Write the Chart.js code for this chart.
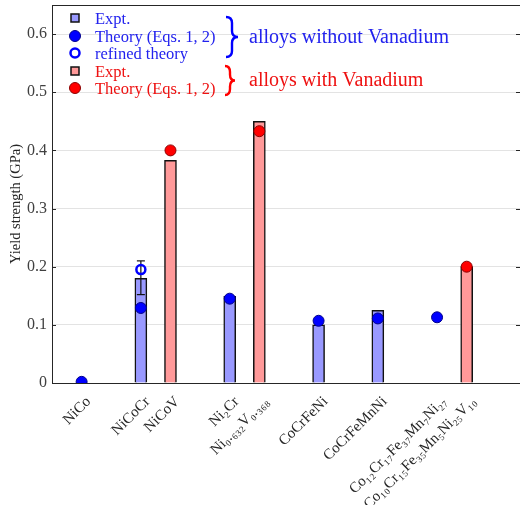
<!DOCTYPE html>
<html>
<head>
<meta charset="utf-8">
<script src="https://cdn.jsdelivr.net/npm/chart.js@4.4.1/dist/chart.umd.min.js"></script>
<style>
  body { margin: 0; background: #fff; }
  #wrap { width: 520px; height: 505px; position: relative; }
</style>
</head>
<body>
<div id="wrap"><canvas id="chart"></canvas></div>
<script>
// positions of the alloys along the x axis and their labels
const tickPos = [0, 2, 3, 5, 6, 8, 10, 12, 13]
const alloyLabels = [
  'NiCo',
  'NiCoCr',
  'NiCoV',
  'Ni₂Cr',
  'Ni₀.₆₃₂V₀.₃₆₈',
  'CoCrFeNi',
  'CoCrFeMnNi',
  'Co₁₂Cr₁₇Fe₃₇Mn₇Ni₂₇',
  'Co₁₀Cr₁₅Fe₃₅Mn₅Ni₂₅V₁₀'
]

// yield strength (GPa)
const exptNoV = [null, 0.18, null, 0.149, null, 0.10, 0.125, null, null]
const exptV = [null, null, 0.383, null, 0.45, null, null, null, 0.20]
const theoryNoV = [0.002, 0.129, null, 0.145, null, 0.107, 0.111, 0.113, null]
const theoryV = [null, null, 0.40, null, 0.433, null, null, null, 0.20]
const refinedTheory = [null, 0.195, null, null, null, null, null, null, null]
const exptErrLow = [null, 0.152, null, null, null, null, null, null, null]
const exptErrHigh = [null, 0.21, null, null, null, null, null, null, null]

const yTicks = [0, 0.1, 0.2, 0.3, 0.4, 0.5, 0.6]

const SERIF = '"Liberation Serif", "DejaVu Serif", serif'

function toPoints (arr) {
  return tickPos.map((x, i) => ({ x, y: arr[i] })).filter(p => p.y !== null)
}

const errPoints = []
tickPos.forEach((x, i) => {
  if (exptErrLow[i] !== null) {
    errPoints.push({ x, y: exptErrLow[i] })
    errPoints.push({ x, y: exptErrHigh[i] })
  }
})

// curly brace helper
function brace (ctx, x, top, bot, w, color) {
  const mid = (top + bot) / 2
  const r = 6
  const hx = x + w / 2
  ctx.save()
  ctx.strokeStyle = color
  ctx.lineWidth = 2.4
  ctx.beginPath()
  ctx.moveTo(x, top)
  ctx.quadraticCurveTo(hx, top, hx, top + r)
  ctx.lineTo(hx, mid - r)
  ctx.quadraticCurveTo(hx, mid, x + w, mid)
  ctx.quadraticCurveTo(hx, mid, hx, mid + r)
  ctx.lineTo(hx, bot - r)
  ctx.quadraticCurveTo(hx, bot, x, bot)
  ctx.stroke()
  ctx.restore()
}

const legendPlugin = {
  id: 'legendBox',
  afterDraw (chart) {
    const ctx = chart.ctx
    const area = chart.chartArea
    const y = chart.scales.y

    // frame top line and inward ticks
    ctx.save()
    ctx.strokeStyle = '#262626'
    ctx.lineWidth = 1
    ctx.beginPath()
    ctx.moveTo(area.left, area.top + 0.5)
    ctx.lineTo(area.right, area.top + 0.5)
    yTicks.forEach(v => {
      const py = Math.round(y.getPixelForValue(v)) + 0.5
      ctx.moveTo(area.left, py)
      ctx.lineTo(area.left + 4, py)
      ctx.moveTo(area.right, py)
      ctx.lineTo(area.right - 4, py)
    })
    ctx.stroke()

    // y axis title
    ctx.translate(16, (area.top + area.bottom) / 2 + 10)
    ctx.rotate(-Math.PI / 2)
    ctx.font = '14.5px ' + SERIF
    ctx.fillStyle = '#262626'
    ctx.textAlign = 'center'
    ctx.textBaseline = 'middle'
    ctx.fillText('Yield strength (GPa)', 0, 0)
    ctx.restore()

    const mx = 75
    const tx = 95
    const rows = [18, 36, 53, 71, 88]
    ctx.save()
    // markers
    ctx.lineWidth = 1.5
    ctx.strokeStyle = '#111'
    ctx.fillStyle = '#9999ff'
    ctx.fillRect(mx - 4, rows[0] - 4, 8, 8)
    ctx.strokeRect(mx - 4, rows[0] - 4, 8, 8)
    ctx.fillStyle = '#ff9999'
    ctx.fillRect(mx - 4, rows[3] - 4, 8, 8)
    ctx.strokeRect(mx - 4, rows[3] - 4, 8, 8)

    ctx.lineWidth = 1
    ctx.beginPath()
    ctx.arc(mx, rows[1], 5.5, 0, Math.PI * 2)
    ctx.fillStyle = '#0000ff'
    ctx.fill()
    ctx.strokeStyle = '#00008b'
    ctx.stroke()

    ctx.beginPath()
    ctx.arc(mx, rows[4], 5.5, 0, Math.PI * 2)
    ctx.fillStyle = '#ff0000'
    ctx.fill()
    ctx.strokeStyle = '#8b0000'
    ctx.stroke()

    ctx.beginPath()
    ctx.arc(mx, rows[2], 4.5, 0, Math.PI * 2)
    ctx.lineWidth = 2.5
    ctx.strokeStyle = '#0000ff'
    ctx.stroke()

    // texts
    ctx.font = '16.5px ' + SERIF
    ctx.textBaseline = 'middle'
    ctx.textAlign = 'left'
    ctx.fillStyle = '#2222ee'
    ctx.fillText('Expt.', tx, rows[0] + 1.5)
    ctx.fillText('Theory (Eqs. 1, 2)', tx, rows[1] + 1.5)
    ctx.fillText('refined theory', tx, rows[2] + 1.5)
    ctx.fillStyle = '#ee1111'
    ctx.fillText('Expt.', tx, rows[3] + 1.5)
    ctx.fillText('Theory (Eqs. 1, 2)', tx, rows[4] + 1.5)

    brace(ctx, 226, 17, 57, 12, '#0000ff')
    brace(ctx, 225, 66, 95, 10, '#ff0000')

    ctx.font = '20px ' + SERIF
    ctx.fillStyle = '#2222ee'
    ctx.fillText('alloys without Vanadium', 249, 38)
    ctx.fillStyle = '#ee1111'
    ctx.fillText('alloys with Vanadium', 249, 81)
    ctx.restore()
  }
}

new Chart(document.getElementById('chart'), {
  type: 'bar',
  data: {
    datasets: [
      {
        type: 'scatter',
        label: 'refined theory',
        data: toPoints(refinedTheory),
        pointRadius: 4.5,
        pointBorderWidth: 2.5,
        pointBackgroundColor: 'rgba(0,0,0,0)',
        pointBorderColor: '#0000ff',
        order: 0
      },
      {
        type: 'scatter',
        label: 'Theory without V',
        data: toPoints(theoryNoV),
        pointRadius: 5.5,
        pointBorderWidth: 1,
        pointBackgroundColor: '#0000ff',
        pointBorderColor: '#00008b',
        order: 0
      },
      {
        type: 'scatter',
        label: 'Theory with V',
        data: toPoints(theoryV),
        pointRadius: 5.5,
        pointBorderWidth: 1,
        pointBackgroundColor: '#ff0000',
        pointBorderColor: '#8b0000',
        order: 0
      },
      {
        type: 'line',
        label: 'error',
        data: errPoints,
        borderColor: '#111',
        borderWidth: 1.2,
        pointStyle: 'line',
        pointRadius: 4,
        pointBorderWidth: 1.2,
        pointBorderColor: '#111',
        order: 1
      },
      {
        label: 'Expt. without V',
        data: toPoints(exptNoV),
        backgroundColor: '#9999ff',
        borderColor: '#111',
        borderWidth: 1.5,
        barThickness: 12,
        grouped: false,
        order: 2
      },
      {
        label: 'Expt. with V',
        data: toPoints(exptV),
        backgroundColor: '#ff9999',
        borderColor: '#111',
        borderWidth: 1.5,
        barThickness: 12,
        grouped: false,
        order: 2
      }
    ]
  },
  options: {
    responsive: true,
    maintainAspectRatio: false,
    animation: false,
    layout: { autoPadding: false, padding: { top: 5, right: 0, left: 0, bottom: 0 } },
    plugins: {
      legend: { display: false },
      tooltip: { enabled: false }
    },
    scales: {
      x: {
        type: 'linear',
        min: -1,
        max: 14.8,
        offset: false,
        grid: { display: false },
        border: { color: '#262626', width: 1 },
        afterBuildTicks: scale => {
          scale.ticks = tickPos.map(v => ({ value: v }))
        },
        afterFit: scale => {
          scale.height = 122
          scale.paddingLeft = 0
          scale.paddingRight = 0
        },
        ticks: {
          autoSkip: false,
          maxRotation: 45,
          minRotation: 45,
          padding: 2,
          labelOffset: 7,
          color: '#262626',
          font: { family: SERIF, size: 15 },
          callback: value => {
            const i = tickPos.indexOf(value)
            return i >= 0 ? alloyLabels[i] : ''
          }
        }
      },
      y: {
        min: 0,
        max: 0.65,
        grid: { color: '#e3e3e3', lineWidth: 1, drawTicks: false },
        border: { color: '#262626', width: 1 },
        afterBuildTicks: scale => {
          scale.ticks = yTicks.map(v => ({ value: v }))
        },
        afterFit: scale => {
          scale.width = 52
          scale.paddingTop = 0
          scale.paddingBottom = 0
        },
        ticks: {
          padding: 5,
          color: '#404040',
          font: { family: SERIF, size: 16 }
        }
      }
    }
  },
  plugins: [legendPlugin]
})
</script>
</body>
</html>
